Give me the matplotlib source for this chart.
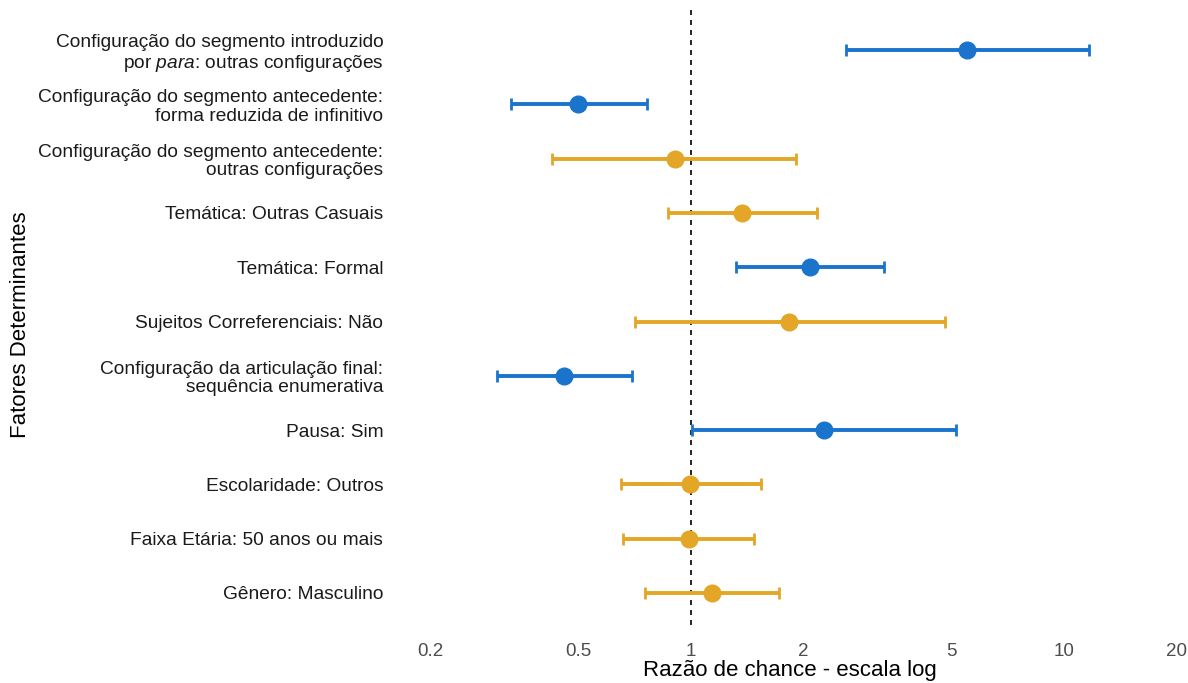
import numpy as np
import matplotlib.pyplot as plt

plt.rcParams['font.family'] = ['Liberation Sans', 'DejaVu Sans']
plt.rcParams['mathtext.fontset'] = 'custom'
plt.rcParams['mathtext.rm'] = 'Liberation Sans'
plt.rcParams['mathtext.it'] = 'Liberation Sans:italic'

# fatores, de cima para baixo
labels = [
    "Configuração do segmento introduzido\npor $\\mathit{para}$: outras configurações",
    "Configuração do segmento antecedente:\nforma reduzida de infinitivo",
    "Configuração do segmento antecedente:\noutras configurações",
    "Temática: Outras Casuais",
    "Temática: Formal",
    "Sujeitos Correferenciais: Não",
    "Configuração da articulação final:\nsequência enumerativa",
    "Pausa: Sim",
    "Escolaridade: Outros",
    "Faixa Etária: 50 anos ou mais",
    "Gênero: Masculino",
]
odds = [5.50, 0.498, 0.906, 1.37, 2.09, 1.83, 0.456, 2.27, 0.994, 0.988, 1.14]
ci_low = [2.60, 0.329, 0.424, 0.868, 1.32, 0.708, 0.302, 1.01, 0.649, 0.657, 0.753]
ci_high = [11.7, 0.762, 1.92, 2.18, 3.29, 4.80, 0.695, 5.13, 1.54, 1.475, 1.72]
signif = [True, True, False, False, True, False, True, True, False, False, False]
xticks = [0.2, 0.5, 1, 2, 5, 10, 20]

BLUE = '#1a74cc'
GOLD = '#e4a626'

fig = plt.figure(figsize=(11.88, 6.83), dpi=100)
ax = fig.add_axes([0.3367, 0.0849, 0.6566, 0.9005])

n = len(labels)
ypos = np.arange(n)[::-1]
for y, m, lo, hi, s in zip(ypos, odds, ci_low, ci_high, signif):
    c = BLUE if s else GOLD
    ax.errorbar(m, y, xerr=[[m - lo], [hi - m]], fmt='o', color=c,
                ecolor=c, elinewidth=2.8, capsize=4.5, capthick=2,
                markersize=12, zorder=3)

ax.axvline(1, color='black', linestyle=(0, (3, 3)), linewidth=1.2, zorder=1)

ax.set_xscale('log')
ax.set_xlim(0.166, 20.5)
ax.set_ylim(-0.59, n - 1 + 0.74)
ax.set_xticks(xticks)
ax.set_xticklabels([f"{t:g}" for t in xticks], fontsize=13.5, color='#4d4d4d')
ax.minorticks_off()
ax.set_yticks(ypos)
ax.set_yticklabels(labels, fontsize=13.8, color='#1a1a1a', linespacing=1.12)
ax.tick_params(axis='both', length=0)
ax.tick_params(axis='x', pad=13)
ax.tick_params(axis='y', pad=12)

for sp in ax.spines.values():
    sp.set_visible(False)

ax.set_xlabel('Razão de chance - escala log', fontsize=16, labelpad=0)
ax.set_ylabel('Fatores Determinantes', fontsize=16)
ax.yaxis.set_label_coords(-0.473, 0.489)

fig.savefig('out.png', dpi=100)
